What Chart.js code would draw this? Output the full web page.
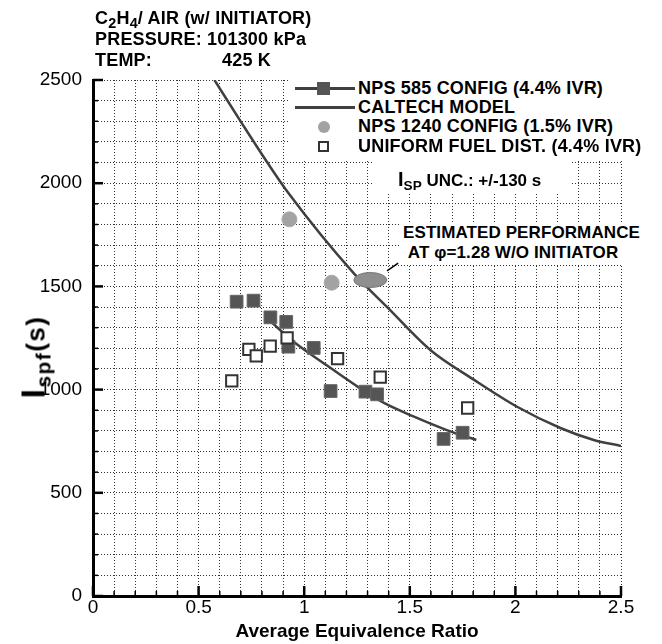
<!DOCTYPE html>
<html lang="en">
<head>
<meta charset="UTF-8">
<title>Ispf vs Average Equivalence Ratio</title>
<script src="https://cdn.jsdelivr.net/npm/chart.js"></script>
<style>
    body { margin: 0; background: #fff; font-family: "Liberation Sans", Arial, sans-serif; }
    .wrap { position: relative; width: 662px; height: 644px; overflow: hidden; }
    #chart { position: absolute; left: 0; top: 0; }
    .note { position: absolute; font-weight: bold; color: #000; white-space: nowrap; }
    .note sub { font-size: 0.8em; vertical-align: -0.3em; line-height: 0; }

    /* conditions, top left */
    .cond { left: 95px; top: 8px; font-size: 18px; line-height: 21px; letter-spacing: 0.2px; }
    .cond .val { position: absolute; left: 127px; }

    /* legend box */
    .legend { left: 290px; top: 75px; width: 372px; height: 84px; background: #fff; }
    .row { position: absolute; left: 0; width: 372px; height: 19px; line-height: 19px; font-size: 18px; letter-spacing: 0.2px; }
    .row .txt { position: absolute; left: 68px; top: 0; }
    .sym-line { position: absolute; left: 5px; top: 8px; width: 60px; height: 3px; background: #404040; }
    .sym-sq { position: absolute; left: 27px; top: 3px; width: 13px; height: 13px; background: #555; }
    .sym-dot { position: absolute; left: 28px; top: 4px; width: 12px; height: 12px; border-radius: 50%; background: #a3a3a3; }
    .sym-open { position: absolute; left: 28px; top: 4px; width: 11px; height: 11px; box-sizing: border-box; border: 2px solid #333; background: #fff; }

    .unc { left: 372px; top: 158px; width: 198px; height: 34px; padding-top: 8px; line-height: 26px; background: #fff; font-size: 17px; padding-left: 26px; box-sizing: border-box; }
    .unc .big { font-size: 20px; }
    .est { left: 400px; top: 222px; width: 244px; height: 42px; background: #fff; font-size: 17px; line-height: 20px; letter-spacing: 0.1px; }
    .est div { position: absolute; left: 3px; }

    .ytitle { left: 33px; top: 357px; transform: translate(-50%, -50%) rotate(-90deg); font-size: 26px; letter-spacing: 1.5px; }
    .ytitle .big { font-size: 34px; }
</style>
</head>
<body>

<div class="wrap">
    <canvas id="chart" width="662" height="644"></canvas>

    <!-- test conditions -->
    <div class="note cond">
        <div>C<sub>2</sub>H<sub>4</sub>/ AIR (w/ INITIATOR)</div>
        <div>PRESSURE: 101300 kPa</div>
        <div>TEMP:<span class="val">425 K</span></div>
    </div>

    <!-- legend -->
    <div class="note legend">
        <div class="row" style="top:4px"><span class="sym-line"></span><span class="sym-sq"></span><span class="txt">NPS 585 CONFIG (4.4% IVR)</span></div>
        <div class="row" style="top:23px"><span class="sym-line"></span><span class="txt">CALTECH MODEL</span></div>
        <div class="row" style="top:42px"><span class="sym-dot"></span><span class="txt">NPS 1240 CONFIG (1.5% IVR)</span></div>
        <div class="row" style="top:62px"><span class="sym-open"></span><span class="txt">UNIFORM FUEL DIST. (4.4% IVR)</span></div>
    </div>

    <div class="note unc"><span class="big">I</span><sub>SP</sub> UNC.: +/-130 s</div>

    <div class="note est">
        <div style="top:1px">ESTIMATED PERFORMANCE</div>
        <div style="top:21px">&nbsp;AT &phi;=1.28 W/O INITIATOR</div>
    </div>

    <div class="note ytitle"><span class="big">I</span><sub>spf</sub>(s)</div>
</div>

<script>
    // tick labels
    var xTickLabels = ['0', '0.5', '1', '1.5', '2', '2.5'];
    var yTickLabels = ['0', '500', '1000', '1500', '2000', '2500'];

    // NPS 585 config (filled squares)
    var nps585Phi = [0.68, 0.76, 0.84, 0.915, 0.925, 1.045, 1.125, 1.29, 1.345, 1.66, 1.75];
    var nps585Isp = [1426, 1431, 1350, 1328, 1208, 1202, 993, 990, 977, 761, 791];

    // curve through the NPS 585 points
    var nps585FitPhi = [0.83, 0.95, 1.105, 1.265, 1.38, 1.52, 1.675, 1.815];
    var nps585FitIsp = [1340, 1232, 1119, 1006, 934, 869, 804, 756];

    // Caltech model
    var caltechPhi = [0.575, 0.705, 0.823, 0.926, 1.234, 1.40, 1.597, 1.805, 2.008, 2.213, 2.371, 2.5];
    var caltechIsp = [2500, 2290, 2104, 1951, 1564, 1392, 1192, 1047, 917, 814, 756, 727];

    // NPS 1240 config (grey circles)
    var nps1240Phi = [0.93, 1.13];
    var nps1240Isp = [1825, 1518];

    // uniform fuel distribution (open squares)
    var uniformPhi = [0.657, 0.738, 0.773, 0.839, 0.919, 1.158, 1.36, 1.774];
    var uniformIsp = [1042, 1195, 1163, 1211, 1251, 1150, 1060, 911];

    // estimated performance without initiator (ellipse) and its leader line
    var estPhi = [1.313];
    var estIsp = [1531];
    var leaderPhi = [1.392, 1.445];
    var leaderIsp = [1575, 1613];

    function pts(xs, ys) {
        return xs.map(function(x, i) { return {x: x, y: ys[i]}; });
    }

    function xLabel(value) {
        var s = String(Math.round(value * 10) / 10);
        return xTickLabels.indexOf(s) >= 0 ? s : '';
    }
    function yLabel(value) {
        var s = String(Math.round(value));
        return yTickLabels.indexOf(s) >= 0 ? s : '';
    }

    // white page background
    var whiteBg = {
        id: 'whiteBg',
        beforeDraw: function(chart) {
            var ctx = chart.ctx;
            ctx.save();
            ctx.fillStyle = '#fff';
            ctx.fillRect(0, 0, chart.width, chart.height);
            ctx.restore();
        }
    };

    // tick marks pointing into the plot
    var insideTicks = {
        id: 'insideTicks',
        beforeDatasetsDraw: function(chart) {
            var ctx = chart.ctx, area = chart.chartArea;
            var xs = chart.scales.x, ys = chart.scales.y;
            ctx.save();
            ctx.strokeStyle = '#000';
            xs.ticks.forEach(function(t) {
                var major = xLabel(t.value) !== '';
                var px = xs.getPixelForValue(t.value);
                ctx.lineWidth = major ? 2.5 : 1.5;
                ctx.beginPath();
                ctx.moveTo(px, area.bottom);
                ctx.lineTo(px, area.bottom - (major ? 10 : 5));
                ctx.stroke();
            });
            ys.ticks.forEach(function(t) {
                var major = yLabel(t.value) !== '';
                var py = ys.getPixelForValue(t.value);
                ctx.lineWidth = major ? 2.5 : 1.5;
                ctx.beginPath();
                ctx.moveTo(area.left, py);
                ctx.lineTo(area.left + (major ? 10 : 5), py);
                ctx.stroke();
            });
            ctx.restore();
        }
    };

    // grey ellipse for the estimated performance
    var estEllipse = {
        id: 'estEllipse',
        afterDatasetsDraw: function(chart) {
            var ctx = chart.ctx;
            var xs = chart.scales.x, ys = chart.scales.y;
            ctx.save();
            estPhi.forEach(function(phi, i) {
                ctx.beginPath();
                ctx.ellipse(xs.getPixelForValue(phi), ys.getPixelForValue(estIsp[i]), 16.5, 7.5, 0, 0, Math.PI * 2);
                ctx.fillStyle = '#8f8f8f';
                ctx.fill();
                ctx.lineWidth = 1;
                ctx.strokeStyle = '#777';
                ctx.stroke();
            });
            ctx.restore();
        }
    };

    var ctx = document.getElementById('chart').getContext('2d');
    Chart.defaults.font.family = '"Liberation Sans", Arial, sans-serif';
    Chart.defaults.color = '#000';

    var chart = new Chart(ctx, {
        type: 'scatter',
        data: {
            datasets: [
                {
                    label: 'NPS 585 CONFIG (4.4% IVR)',
                    data: pts(nps585Phi, nps585Isp),
                    pointStyle: 'rect',
                    pointRadius: 9,
                    backgroundColor: '#555',
                    borderColor: '#666',
                    borderWidth: 1,
                    order: 3
                },
                {
                    label: 'NPS 585 fit',
                    data: pts(nps585FitPhi, nps585FitIsp),
                    showLine: true,
                    pointRadius: 0,
                    borderColor: '#404040',
                    borderWidth: 2.5,
                    cubicInterpolationMode: 'monotone',
                    order: 4
                },
                {
                    label: 'CALTECH MODEL',
                    data: pts(caltechPhi, caltechIsp),
                    showLine: true,
                    pointRadius: 0,
                    borderColor: '#404040',
                    borderWidth: 2.5,
                    cubicInterpolationMode: 'monotone',
                    order: 4
                },
                {
                    label: 'NPS 1240 CONFIG (1.5% IVR)',
                    data: pts(nps1240Phi, nps1240Isp),
                    pointStyle: 'circle',
                    pointRadius: 7.5,
                    backgroundColor: '#a3a3a3',
                    borderColor: '#aaa',
                    borderWidth: 1,
                    order: 3
                },
                {
                    label: 'UNIFORM FUEL DIST. (4.4% IVR)',
                    data: pts(uniformPhi, uniformIsp),
                    pointStyle: 'rect',
                    pointRadius: 8,
                    backgroundColor: '#fff',
                    borderColor: '#333',
                    borderWidth: 2,
                    order: 1
                },
                {
                    label: 'leader',
                    data: pts(leaderPhi, leaderIsp),
                    showLine: true,
                    pointRadius: 0,
                    borderColor: '#000',
                    borderWidth: 1.5,
                    order: 4
                }
            ]
        },
        options: {
            responsive: false,
            animation: false,
            events: [],
            layout: { padding: { top: 80, right: 41, bottom: 0, left: 0 } },
            plugins: {
                legend: { display: false },
                tooltip: { enabled: false }
            },
            scales: {
                x: {
                    type: 'linear',
                    min: 0,
                    max: 2.5,
                    afterFit: function(scale) { scale.height = 48; },
                    ticks: {
                        stepSize: 0.1,
                        autoSkip: false,
                        maxRotation: 0,
                        padding: 0,
                        font: { size: 19 },
                        callback: xLabel
                    },
                    grid: { color: '#333', lineWidth: 1, drawTicks: false },
                    border: { color: '#000', width: 3, dash: [1, 2] },
                    title: {
                        display: true,
                        text: 'Average Equivalence Ratio',
                        font: { size: 19, weight: 'bold' },
                        padding: { top: 0, bottom: 1 }
                    }
                },
                y: {
                    type: 'linear',
                    min: 0,
                    max: 2500,
                    afterFit: function(scale) { scale.width = 93; },
                    ticks: {
                        stepSize: 100,
                        autoSkip: false,
                        padding: 11,
                        font: { size: 19 },
                        callback: yLabel
                    },
                    grid: { color: '#333', lineWidth: 1, drawTicks: false },
                    border: { color: '#000', width: 3, dash: [1, 2] }
                }
            }
        },
        plugins: [whiteBg, insideTicks, estEllipse]
    });
</script>

</body>
</html>
